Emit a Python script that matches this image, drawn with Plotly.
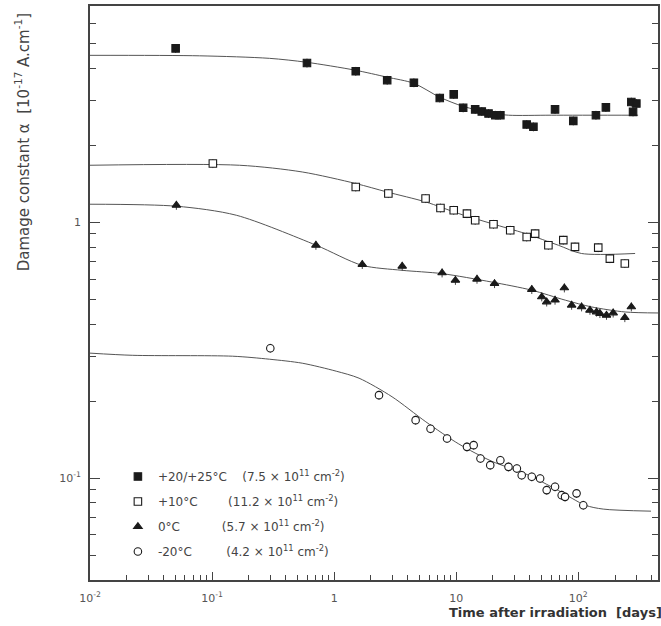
import plotly.graph_objects as go

# ---------------- data ----------------
# +20/+25 C  (filled squares)
tA = [0.0503, 0.599, 1.503, 2.72, 4.50, 7.33, 9.54, 11.4, 14.3, 16.2, 18.4, 20.9, 23.0,
      37.8, 42.9, 64.5, 91.0, 139.5, 168.3, 272, 299, 281]
aA = [4.78, 4.19, 3.89, 3.59, 3.51, 3.06, 3.16, 2.80, 2.76, 2.71, 2.66, 2.62, 2.62,
      2.41, 2.36, 2.76, 2.49, 2.62, 2.81, 2.95, 2.91, 2.70]
# +10 C (open squares)
tB = [0.1015, 1.503, 2.78, 5.61, 7.43, 9.54, 12.25, 14.3, 20.2, 27.7, 37.8, 44.3, 56.9,
      75.4, 94.0, 145.7, 181.4, 240.6]
aB = [1.696, 1.374, 1.295, 1.238, 1.137, 1.114, 1.081, 1.018, 0.982, 0.931, 0.876, 0.903,
      0.813, 0.851, 0.801, 0.796, 0.721, 0.690]
# 0 C (filled triangles)
tC = [0.0510, 0.709, 1.70, 3.61, 7.66, 9.85, 14.8, 20.6, 41.6, 50.2, 55.1, 64.5, 76.9,
      88.2, 106.4, 124.6, 141.1, 150.4, 170.2, 193.1, 240.6, 272]
aC = [1.165, 0.813, 0.684, 0.673, 0.634, 0.593, 0.599, 0.576, 0.546, 0.511, 0.488, 0.496,
      0.554, 0.474, 0.467, 0.453, 0.446, 0.440, 0.433, 0.442, 0.424, 0.467]
# -20 C (open circles)
tD = [0.300, 2.33, 4.65, 6.16, 8.41, 12.25, 13.9, 15.8, 19.0, 23.0, 26.8, 31.4, 34.4,
      41.6, 48.7, 55.1, 64.5, 73.1, 77.9, 96.8, 109.9]
aD = [0.322, 0.211, 0.1685, 0.156, 0.1429, 0.1325, 0.1346, 0.1194, 0.1124, 0.1175, 0.1107,
      0.1091, 0.1027, 0.1012, 0.0997, 0.0898, 0.0925, 0.0858, 0.0845, 0.0872, 0.0784]

# fitted curves
fitA_t = [0.01, 0.0791, 0.295, 0.591, 1.48, 2.71, 4.50, 7.33, 11.3, 19.5, 26.8, 60, 309]
fitA_a = [4.49, 4.47, 4.37, 4.22, 3.93, 3.69, 3.49, 3.08, 2.84, 2.67, 2.62, 2.62, 2.62]
fitB_t = [0.01, 0.168, 0.548, 1.51, 2.71, 5.64, 10.5, 19.5, 36.9, 68.7, 106, 292]
fitB_a = [1.670, 1.670, 1.572, 1.416, 1.313, 1.200, 1.081, 0.988, 0.903, 0.813, 0.755, 0.755]
fitC_t = [0.01, 0.0513, 0.158, 0.713, 1.69, 3.59, 7.61, 19.5, 41.3, 78.3, 128, 242, 458]
fitC_a = [1.176, 1.155, 1.065, 0.813, 0.679, 0.649, 0.630, 0.584, 0.543, 0.496, 0.467, 0.446, 0.442]
fitD_t = [0.01, 0.0224, 0.147, 0.295, 0.548, 1.04, 1.60, 2.98, 5.64, 10.5, 19.5, 36.9,
          68.7, 114, 160, 394]
fitD_a = [0.308, 0.302, 0.2996, 0.2916, 0.2813, 0.2618, 0.2458, 0.208, 0.166, 0.136,
          0.1165, 0.1040, 0.0895, 0.0784, 0.0757, 0.0743]

nb = "\u00a0"
names = ["+20/+25°C" + nb * 4 + "(7.5 × 10<sup>11</sup> cm<sup>-2</sup>)",
         "+10°C" + nb * 8 + "(11.2 × 10<sup>11</sup> cm<sup>-2</sup>)",
         "0°C" + nb * 11 + "(5.7 × 10<sup>11</sup> cm<sup>-2</sup>)",
         "-20°C" + nb * 9 + "(4.2 × 10<sup>11</sup> cm<sup>-2</sup>)"]

xtick_vals = [0.01, 0.1, 1, 10, 100]
xtick_text = ["10<sup>-2</sup>", "10<sup>-1</sup>", "1", "10", "10<sup>2</sup>"]
ytick_vals = [0.1, 1]
ytick_text = ["10<sup>-1</sup>", "1"]

# ---------------- figure ----------------
fig = go.Figure()
ink = "#1a1a1a"
series = [
    (tA, aA, fitA_t, fitA_a, "square", ink),
    (tB, aB, fitB_t, fitB_a, "square", "white"),
    (tC, aC, fitC_t, fitC_a, "triangle-up", ink),
    (tD, aD, fitD_t, fitD_a, "circle", "white"),
]
for i, (t, a, ft, fa, sym, fill) in enumerate(series):
    fig.add_trace(go.Scatter(x=ft, y=fa, mode="lines",
                             line=dict(color="#555555", width=1, shape="spline", smoothing=0.8),
                             showlegend=False, legendgroup=f"g{i}", hoverinfo="skip"))
    fig.add_trace(go.Scatter(x=t, y=a, mode="markers", name=names[i], legendgroup=f"g{i}",
                             marker=dict(symbol=sym, size=7.5, color=fill,
                                         line=dict(color=ink, width=1.1)),
                             error_y=dict(type="percent", value=4, width=0,
                                          thickness=1, color="#444444")))

minor_x = [k * 10.0 ** e for e in range(-2, 3) for k in range(2, 10)]
minor_y = [k * 10.0 ** e for e in range(-2, 1) for k in range(2, 10)]

axis_common = dict(type="log", showgrid=False, zeroline=False, showline=True,
                   linecolor="#444444", linewidth=1.6, ticks="inside",
                   tickcolor="#444444", tickwidth=1,
                   tickfont=dict(family="DejaVu Sans", size=11, color="#555555"))

fig.update_xaxes(**axis_common, range=[-2, 2.653], mirror=True,
                 tickvals=xtick_vals, ticktext=xtick_text, ticklen=8,
                 ticklabelstandoff=7,
                 minor=dict(ticks="inside", ticklen=5, tickvals=minor_x,
                            tickcolor="#444444", showgrid=False))
fig.update_yaxes(**axis_common, range=[-1.398, 0.845], mirror="ticks",
                 tickvals=ytick_vals, ticktext=ytick_text, ticklen=10,
                 ticklabelstandoff=5,
                 minor=dict(ticks="inside", ticklen=6, tickvals=minor_y,
                            tickcolor="#444444", showgrid=False))

fig.update_layout(
    width=661, height=626,
    margin=dict(l=90, r=1, t=6, b=46),
    paper_bgcolor="white", plot_bgcolor="white",
    showlegend=True,
    legend=dict(x=(118 - 90) / 570, y=(580 - 462) / 574, xanchor="left", yanchor="top",
                bgcolor="rgba(0,0,0,0)", tracegroupgap=6, itemwidth=30,
                font=dict(family="DejaVu Sans", size=12, color="#444444")),
    annotations=[
        dict(text="Damage constant α" + nb * 2 + "[10<sup>-17</sup> A.cm<sup>-1</sup>]",
             xref="paper", yref="paper", x=(22 - 90) / 570, y=(580 - 142) / 574,
             textangle=-90, showarrow=False, xanchor="center", yanchor="middle",
             font=dict(family="DejaVu Sans", size=15, color="#444444")),
        dict(text="<b>Time after irradiation" + nb * 2 + "[days]</b>",
             xref="paper", yref="paper", x=(448 - 90) / 570, y=(580 - 612) / 574,
             showarrow=False, xanchor="left", yanchor="middle",
             font=dict(family="DejaVu Sans", size=13, color="#333333")),
    ],
)

fig.write_html("out.html")
